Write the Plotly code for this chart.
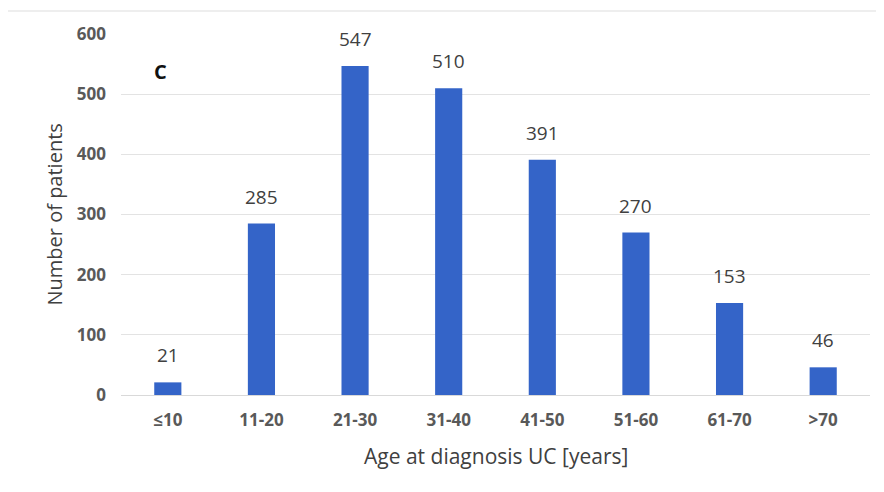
import plotly.graph_objects as go

categories = ["≤10", "11-20", "21-30", "31-40", "41-50", "51-60", "61-70", ">70"]
patients = [21, 285, 547, 510, 391, 270, 153, 46]
y_ticks = [0, 100, 200, 300, 400, 500, 600]

# page body has an 8px margin; figure sized to fit the 884x492 window
W, H = 868, 476
L, R, T, B = 113, 6, 26, 89
PW, PH = W - L - R, H - T - B

fig = go.Figure()
fig.add_trace(go.Bar(
    x=categories, y=patients,
    marker=dict(color="#3464c8", line=dict(width=0)),
    width=0.29,
    hoverinfo="x+y",
))

for c, v in zip(categories, patients):
    fig.add_annotation(
        x=c, y=v, xref="x", yref="y", text=str(v), showarrow=False,
        yanchor="middle", yshift=27,
        font=dict(family="Open Sans", size=19, color="#404040"),
    )

fig.add_annotation(
    x=(152 - L) / PW, y=(H - B - 63) / PH,
    xref="paper", yref="paper", text="<b>C</b>", showarrow=False,
    xanchor="center", yanchor="middle",
    font=dict(family="Open Sans", size=20, color="#111111"),
)
# axis titles
fig.add_annotation(
    x=(46 - L) / PW, y=0.5, xref="paper", yref="paper",
    text="Number of patients", textangle=-90, showarrow=False,
    xanchor="center", yanchor="middle",
    font=dict(family="Open Sans", size=20, color="#404040", weight=500),
)
fig.add_annotation(
    x=0.5, y=-(448 - (H - B)) / PH, xref="paper", yref="paper",
    text="Age at diagnosis UC [years]", showarrow=False,
    xanchor="center", yanchor="middle",
    font=dict(family="Open Sans", size=21, color="#404040", weight=500),
)

fig.update_layout(
    width=W, height=H,
    margin=dict(l=L, r=R, t=T, b=B, autoexpand=False),
    paper_bgcolor="white", plot_bgcolor="white",
    showlegend=False,
    shapes=[
        dict(type="line", xref="paper", yref="paper",
             x0=-L / PW, x1=1 + R / PW,
             y0=1 + (T - 3) / PH, y1=1 + (T - 3) / PH,
             line=dict(color="#eeeeee", width=2), layer="below"),
    ],
)
fig.update_xaxes(
    type="category", showgrid=False, showline=True, linecolor="#d9d9d9", linewidth=1,
    ticks="", tickfont=dict(family="Open Sans", size=17, color="#595959", weight=700),
    ticklabelstandoff=10,
)
fig.update_yaxes(
    range=[0, 600], tickvals=y_ticks, showgrid=True, gridcolor="#e3e3e3", gridwidth=1,
    zeroline=False, showline=False, ticks="",
    tickfont=dict(family="Open Sans", size=17, color="#595959", weight=700),
    ticklabelstandoff=14,
)

fig.write_html("out.html")
